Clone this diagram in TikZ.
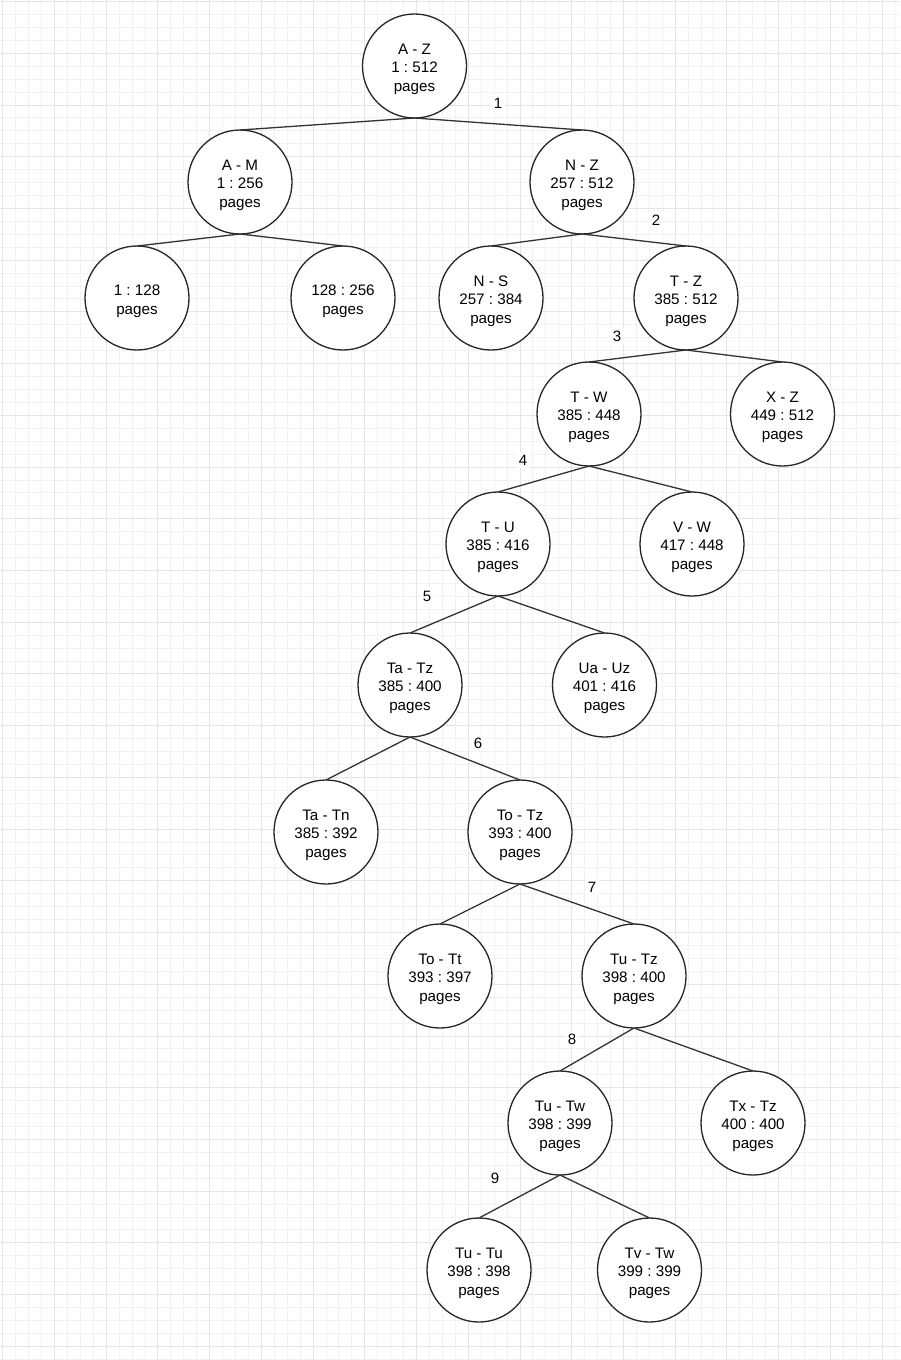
\documentclass[tikz,border=0pt]{standalone}
\usepackage{fontspec}
\setmainfont{Liberation Sans}
\frenchspacing
\newcommand\topstrut{\rule{0pt}{17pt}}
\begin{document}
\begin{tikzpicture}[x=1pt,y=-1pt,
  tnode/.style={circle,draw=black!85,line width=1.3pt,fill=white,minimum size=104pt,inner sep=0pt,outer sep=0pt,align=center,font=\fontsize{15.2}{18.5}\selectfont,text=black},
  edge/.style={draw=black!80,line width=1.3pt},
  elabel/.style={fill=white,inner sep=3pt,font=\fontsize{15}{18}\selectfont,text=black}]
\fill[white] (0,0) rectangle (900,1360);
\useasboundingbox (0,0) rectangle (900,1360);
% grid
\foreach \i in {0,...,70} {
  \draw[color=black!5,line width=0.8pt] ({2.7+\i*12.93},0) -- ({2.7+\i*12.93},1360);
}
\foreach \i in {0,...,105} {
  \draw[color=black!5,line width=0.8pt] (0,{1.5+\i*12.93}) -- (900,{1.5+\i*12.93});
}
\foreach \i in {0,...,17} {
  \draw[color=black!10,line width=0.8pt] ({2.7+\i*51.72},0) -- ({2.7+\i*51.72},1360);
}
\foreach \i in {0,...,26} {
  \draw[color=black!10,line width=0.8pt] (0,{1.5+\i*51.72}) -- (900,{1.5+\i*51.72});
}
% nodes
\node[tnode] (az) at (414.5,66) {\topstrut A - Z\\1 : 512\\pages};
\node[tnode] (am) at (240,182) {\topstrut A - M\\1 : 256\\pages};
\node[tnode] (nz) at (582,182) {\topstrut N - Z\\257 : 512\\pages};
\node[tnode] (a1) at (137,298) {\topstrut 1 : 128\\pages};
\node[tnode] (a2) at (343,298) {\topstrut 128 : 256\\pages};
\node[tnode] (ns) at (491,298) {\topstrut N - S\\257 : 384\\pages};
\node[tnode] (tz) at (686,298) {\topstrut T - Z\\385 : 512\\pages};
\node[tnode] (tw) at (589,414) {\topstrut T - W\\385 : 448\\pages};
\node[tnode] (xz) at (782.5,414) {\topstrut X - Z\\449 : 512\\pages};
\node[tnode] (tu) at (498,544) {\topstrut T - U\\385 : 416\\pages};
\node[tnode] (vw) at (692,544) {\topstrut V - W\\417 : 448\\pages};
\node[tnode] (tatz) at (410,685) {\topstrut Ta - Tz\\385 : 400\\pages};
\node[tnode] (uauz) at (604.5,685) {\topstrut Ua - Uz\\401 : 416\\pages};
\node[tnode] (tatn) at (326,832) {\topstrut Ta - Tn\\385 : 392\\pages};
\node[tnode] (totz) at (520,832) {\topstrut To - Tz\\393 : 400\\pages};
\node[tnode] (tott) at (440,976) {\topstrut To - Tt\\393 : 397\\pages};
\node[tnode] (tutz) at (634,976) {\topstrut Tu - Tz\\398 : 400\\pages};
\node[tnode] (tutw) at (560,1123) {\topstrut Tu - Tw\\398 : 399\\pages};
\node[tnode] (txtz) at (753,1123) {\topstrut Tx - Tz\\400 : 400\\pages};
\node[tnode] (tutu) at (479,1270) {\topstrut Tu - Tu\\398 : 398\\pages};
\node[tnode] (tvtw) at (649.5,1270) {\topstrut Tv - Tw\\399 : 399\\pages};
% edges
\foreach \p/\c in {az/am,az/nz,am/a1,am/a2,nz/ns,nz/tz,tz/tw,tz/xz,tw/tu,tw/vw,tu/tatz,tu/uauz,tatz/tatn,tatz/totz,totz/tott,totz/tutz,tutz/tutw,tutz/txtz,tutw/tutu,tutw/tvtw}
  \draw[edge] (\p.south) -- (\c.north);
% edge labels
\node[elabel] (l1) at (498,103) {1};
\node[elabel] (l2) at (656,220) {2};
\node[elabel] (l3) at (617,336) {3};
\node[elabel] (l4) at (523,460) {4};
\node[elabel] (l5) at (427,596) {5};
\node[elabel] (l6) at (478,743) {6};
\node[elabel] (l7) at (592,887) {7};
\node[elabel] (l8) at (572,1039) {8};
\node[elabel] (l9) at (495,1178) {9};
\end{tikzpicture}
\end{document}
